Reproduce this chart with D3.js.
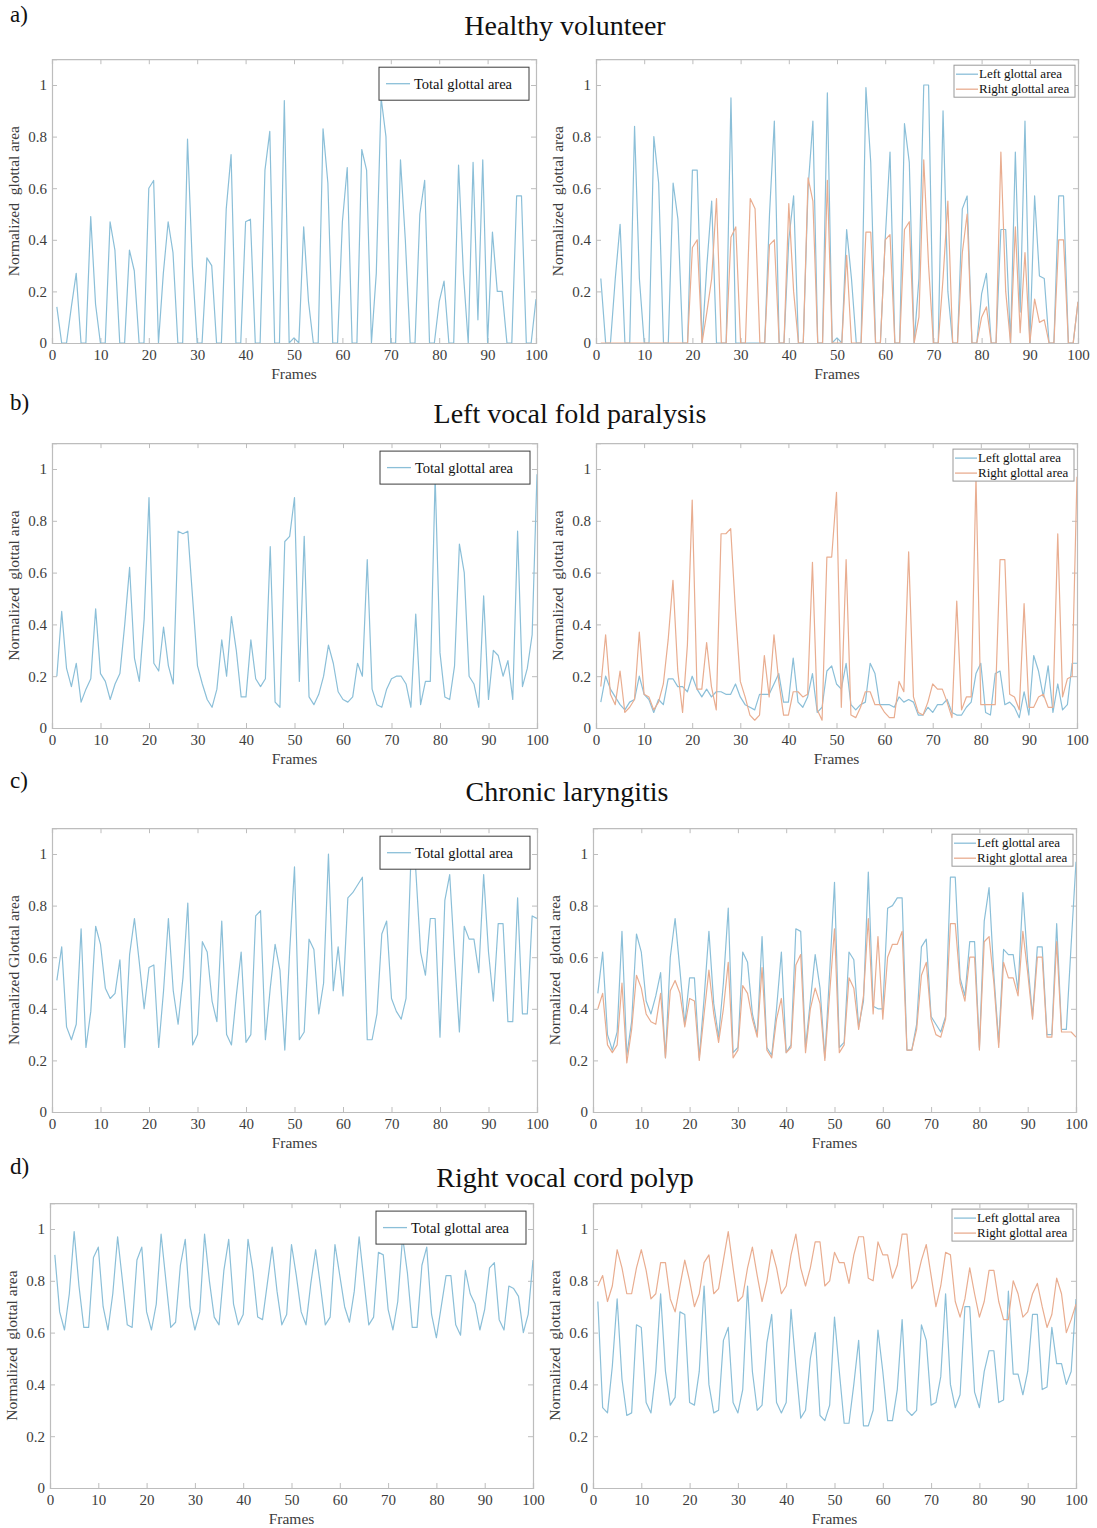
<!DOCTYPE html>
<html>
<head>
<meta charset="utf-8">
<script src="https://cdn.jsdelivr.net/npm/d3@7"></script>
<style>
  body { margin: 0; background: #fff; }
  svg { display: block; font-family: "Liberation Serif", "Times New Roman", serif; }
</style>
</head>
<body>
<div id="chart"></div>
<script>
const width = 1097;
const height = 1528;

// frame numbers
const frames = d3.range(1, 101);
const xTicks = d3.range(0, 101, 10);
const yTicks = [0, 0.2, 0.4, 0.6, 0.8, 1];

const rowTitles = ["Healthy volunteer", "Left vocal fold paralysis", "Chronic laryngitis", "Right vocal cord polyp"];
const rowLetters = ["a)", "b)", "c)", "d)"];
const totalLabel = "Total glottal area";
const leftLabel = "Left glottal area";
const rightLabel = "Right glottal area";

const healthyTotal = [0.14,0,0,0.14,0.27,0,0,0.49,0.15,0,
  0,0.47,0.36,0,0,0.36,0.28,0,0,0.60,
  0.63,0,0.27,0.47,0.35,0,0,0.79,0.30,0,
  0,0.33,0.30,0,0,0.52,0.73,0,0,0.47,
  0.48,0,0,0.67,0.82,0,0,0.94,0,0.02,
  0,0.45,0.16,0,0,0.83,0.62,0,0,0.47,
  0.68,0,0,0.75,0.67,0,0.27,0.95,0.80,0,
  0,0.71,0.40,0,0,0.50,0.63,0,0,0.16,
  0.24,0,0,0.69,0.27,0,0.70,0.09,0.71,0,
  0.43,0.20,0.20,0,0,0.57,0.57,0,0,0.17];

const healthyLeft = [0.25,0,0,0.25,0.46,0,0,0.84,0.25,0,
  0,0.80,0.62,0,0,0.62,0.48,0,0,0.67,
  0.67,0,0.30,0.55,0,0,0,0.95,0,0,
  0,0,0,0,0,0.50,0.86,0,0,0.40,
  0.57,0,0,0.60,0.86,0,0,0.97,0,0.02,
  0,0.44,0.25,0,0,0.99,0.70,0,0,0.40,
  0.74,0,0,0.85,0.70,0,0.25,1.0,1.0,0,
  0,0.90,0.20,0,0,0.52,0.57,0,0,0.19,
  0.27,0,0,0.44,0.44,0,0.74,0.12,0.86,0,
  0.57,0.26,0.25,0,0,0.57,0.57,0,0,0.16];

const healthyRight = [0,0,0,0,0,0,0,0,0,0,
  0,0,0,0,0,0,0,0,0,0.37,
  0.40,0,0.12,0.25,0.56,0,0,0.41,0.45,0,
  0,0.56,0.52,0,0,0.38,0.40,0,0,0.54,
  0.20,0,0,0.64,0.55,0,0,0.63,0,0,
  0,0.34,0,0,0,0.43,0.43,0,0,0.40,
  0.42,0,0,0.44,0.47,0,0.10,0.71,0.30,0,
  0,0.25,0.55,0,0,0.35,0.50,0,0,0.10,
  0.14,0,0,0.74,0.20,0,0.45,0.04,0.35,0,
  0.17,0.08,0.09,0,0,0.40,0.40,0,0,0.16];

const paralysisTotal = [0.20,0.45,0.23,0.16,0.25,0.10,0.15,0.19,0.46,0.21,
  0.18,0.11,0.17,0.21,0.40,0.62,0.27,0.18,0.42,0.89,
  0.25,0.22,0.39,0.24,0.17,0.76,0.75,0.76,0.50,0.24,
  0.17,0.11,0.08,0.15,0.34,0.20,0.43,0.30,0.12,0.12,
  0.34,0.19,0.16,0.19,0.70,0.10,0.08,0.72,0.74,0.89,
  0.18,0.74,0.12,0.09,0.13,0.20,0.32,0.25,0.14,0.11,
  0.10,0.12,0.25,0.20,0.65,0.15,0.09,0.08,0.15,0.19,
  0.20,0.20,0.17,0.08,0.44,0.09,0.18,0.18,0.97,0.29,
  0.12,0.11,0.24,0.71,0.60,0.20,0.17,0.08,0.51,0.11,
  0.30,0.28,0.20,0.26,0.11,0.76,0.16,0.23,0.36,0.98];

const paralysisLeft = [0.10,0.20,0.15,0.12,0.09,0.07,0.10,0.11,0.20,0.13,
  0.11,0.06,0.11,0.09,0.19,0.19,0.16,0.16,0.14,0.20,
  0.15,0.12,0.15,0.12,0.14,0.14,0.13,0.13,0.17,0.12,
  0.09,0.08,0.07,0.13,0.13,0.13,0.17,0.21,0.10,0.10,
  0.27,0.10,0.08,0.12,0.21,0.06,0.08,0.22,0.24,0.17,
  0.15,0.25,0.09,0.07,0.09,0.10,0.25,0.21,0.09,0.09,
  0.09,0.08,0.12,0.10,0.11,0.10,0.05,0.05,0.08,0.06,
  0.09,0.09,0.11,0.06,0.05,0.05,0.08,0.10,0.21,0.25,
  0.06,0.05,0.21,0.22,0.09,0.10,0.08,0.04,0.14,0.05,
  0.28,0.22,0.12,0.24,0.06,0.17,0.07,0.09,0.25,0.25];

const paralysisRight = [0.16,0.36,0.13,0.09,0.22,0.06,0.08,0.11,0.37,0.13,
  0.12,0.07,0.10,0.17,0.34,0.57,0.22,0.06,0.32,0.88,
  0.15,0.15,0.33,0.16,0.07,0.75,0.75,0.77,0.45,0.18,
  0.12,0.05,0.03,0.05,0.28,0.12,0.36,0.18,0.05,0.05,
  0.14,0.14,0.12,0.13,0.64,0.07,0.03,0.66,0.66,0.91,
  0.08,0.65,0.05,0.04,0.08,0.14,0.14,0.09,0.09,0.06,
  0.04,0.04,0.18,0.14,0.68,0.12,0.06,0.05,0.10,0.17,
  0.15,0.15,0.10,0.04,0.49,0.07,0.12,0.12,0.97,0.09,
  0.09,0.09,0.09,0.65,0.65,0.13,0.12,0.07,0.48,0.08,
  0.08,0.12,0.13,0.08,0.08,0.75,0.12,0.19,0.20,0.97];

const laryngitisTotal = [0.51,0.64,0.33,0.28,0.34,0.71,0.25,0.39,0.72,0.65,
  0.48,0.44,0.46,0.59,0.25,0.61,0.75,0.58,0.40,0.56,
  0.57,0.25,0.47,0.75,0.47,0.34,0.52,0.81,0.26,0.30,
  0.66,0.62,0.43,0.35,0.74,0.30,0.26,0.45,0.62,0.27,
  0.30,0.76,0.78,0.28,0.48,0.65,0.55,0.24,0.62,0.95,
  0.28,0.31,0.67,0.63,0.38,0.50,1.00,0.47,0.64,0.45,
  0.83,0.85,0.88,0.91,0.28,0.28,0.38,0.69,0.74,0.44,
  0.39,0.36,0.44,0.98,0.94,0.62,0.53,0.75,0.75,0.29,
  0.82,0.92,0.60,0.31,0.72,0.67,0.67,0.54,0.92,0.62,
  0.43,0.73,0.73,0.35,0.35,0.83,0.38,0.38,0.76,0.75];

const laryngitisLeft = [0.46,0.62,0.30,0.24,0.31,0.70,0.22,0.35,0.69,0.62,
  0.43,0.38,0.45,0.54,0.21,0.60,0.75,0.55,0.34,0.52,
  0.52,0.21,0.44,0.70,0.42,0.29,0.50,0.79,0.23,0.25,
  0.62,0.58,0.38,0.30,0.68,0.25,0.22,0.40,0.62,0.23,
  0.26,0.71,0.70,0.25,0.43,0.61,0.48,0.21,0.54,0.89,
  0.25,0.27,0.62,0.59,0.33,0.43,0.93,0.41,0.40,0.40,
  0.79,0.80,0.83,0.83,0.24,0.24,0.34,0.64,0.67,0.37,
  0.34,0.31,0.37,0.91,0.91,0.52,0.45,0.66,0.66,0.25,
  0.74,0.87,0.53,0.27,0.63,0.61,0.61,0.47,0.85,0.58,
  0.37,0.64,0.64,0.30,0.30,0.73,0.32,0.32,0.65,0.97];

const laryngitisRight = [0.40,0.46,0.26,0.23,0.26,0.50,0.19,0.32,0.53,0.48,
  0.38,0.35,0.34,0.46,0.21,0.47,0.51,0.46,0.33,0.44,
  0.43,0.20,0.38,0.55,0.38,0.27,0.40,0.58,0.21,0.24,
  0.49,0.46,0.36,0.29,0.56,0.24,0.21,0.36,0.44,0.23,
  0.25,0.57,0.61,0.23,0.40,0.48,0.42,0.20,0.46,0.71,
  0.23,0.26,0.52,0.48,0.32,0.45,0.75,0.38,0.68,0.36,
  0.60,0.65,0.65,0.70,0.24,0.24,0.32,0.53,0.58,0.36,
  0.30,0.29,0.36,0.73,0.73,0.50,0.43,0.60,0.60,0.24,
  0.66,0.68,0.50,0.25,0.58,0.52,0.52,0.45,0.70,0.54,
  0.36,0.60,0.60,0.29,0.29,0.66,0.31,0.31,0.31,0.29];

const polypTotal = [0.90,0.68,0.61,0.75,0.99,0.78,0.62,0.62,0.89,0.93,
  0.70,0.61,0.75,0.97,0.80,0.63,0.62,0.88,0.93,0.68,
  0.61,0.71,0.98,0.80,0.62,0.64,0.86,0.96,0.70,0.61,
  0.68,0.98,0.80,0.66,0.63,0.84,0.96,0.71,0.63,0.67,
  0.96,0.84,0.66,0.65,0.79,0.93,0.76,0.63,0.67,0.94,
  0.82,0.68,0.63,0.79,0.92,0.78,0.63,0.66,0.94,0.82,
  0.70,0.64,0.76,0.97,0.80,0.63,0.66,0.91,0.90,0.69,
  0.61,0.72,0.97,0.83,0.62,0.62,0.86,0.93,0.67,0.58,
  0.70,0.82,0.82,0.63,0.59,0.84,0.75,0.71,0.61,0.69,
  0.85,0.87,0.65,0.61,0.78,0.77,0.74,0.60,0.67,0.88];

const polypLeft = [0.72,0.31,0.29,0.47,0.73,0.42,0.28,0.29,0.63,0.62,
  0.33,0.29,0.45,0.75,0.45,0.32,0.35,0.68,0.67,0.33,
  0.32,0.45,0.78,0.40,0.29,0.30,0.57,0.62,0.33,0.29,
  0.38,0.78,0.45,0.30,0.32,0.56,0.67,0.33,0.29,0.33,
  0.69,0.47,0.27,0.30,0.50,0.60,0.28,0.26,0.32,0.66,
  0.45,0.25,0.25,0.40,0.57,0.24,0.24,0.30,0.61,0.45,
  0.26,0.26,0.38,0.65,0.30,0.28,0.30,0.63,0.57,0.32,
  0.33,0.43,0.75,0.40,0.31,0.36,0.70,0.70,0.37,0.31,
  0.45,0.53,0.53,0.33,0.34,0.76,0.44,0.44,0.36,0.45,
  0.67,0.67,0.38,0.39,0.62,0.48,0.48,0.40,0.45,0.73];

const polypRight = [0.78,0.82,0.72,0.78,0.92,0.85,0.75,0.75,0.85,0.92,
  0.84,0.73,0.75,0.87,0.87,0.73,0.68,0.78,0.88,0.80,
  0.70,0.75,0.87,0.90,0.75,0.77,0.88,0.99,0.85,0.72,
  0.74,0.85,0.93,0.82,0.72,0.80,0.92,0.85,0.75,0.78,
  0.90,0.98,0.85,0.78,0.85,0.95,0.95,0.78,0.80,0.91,
  0.87,0.87,0.79,0.90,0.97,0.97,0.81,0.80,0.95,0.90,
  0.90,0.81,0.86,0.98,0.98,0.77,0.80,0.88,0.94,0.82,
  0.70,0.78,0.91,0.90,0.72,0.66,0.73,0.85,0.75,0.66,
  0.72,0.84,0.84,0.72,0.65,0.65,0.80,0.75,0.66,0.68,
  0.75,0.79,0.70,0.62,0.67,0.81,0.75,0.60,0.65,0.71];

const colors = { blue: "#8bbfd8", orange: "#e9ad90" };

// pixel layout of each row: y of value 0, px per unit, x-range of both panels
const rows = [
  { zero: 343,  unit: 258, left: [52, 536], right: [596, 1078], total: healthyTotal,    lr: [healthyLeft, healthyRight],       yTitle: ["Normalized  glottal area", "Normalized  glottal area"] },
  { zero: 728,  unit: 259, left: [52, 537], right: [596, 1077], total: paralysisTotal,  lr: [paralysisLeft, paralysisRight],   yTitle: ["Normalized  glottal area", "Normalized  glottal area"] },
  { zero: 1112, unit: 258, left: [52, 537], right: [593, 1076], total: laryngitisTotal, lr: [laryngitisLeft, laryngitisRight], yTitle: ["Normalized Glottal area", "Normalized  glottal area"] },
  { zero: 1488, unit: 259, left: [50, 533], right: [593, 1076], total: polypTotal,      lr: [polypLeft, polypRight],           yTitle: ["Normalized  glottal area", "Normalized  glottal area"] }
];

const svg = d3.select("#chart").append("svg")
  .attr("width", width)
  .attr("height", height);

const titleY = [26, 414, 792, 1178];
const titleX = [565, 570, 567, 565];

function drawPanel(row, xr, series, labels, yTitle, legendWide) {
  const xScale = d3.scaleLinear().domain([0, 100]).range(xr);
  const yScale = d3.scaleLinear().domain([0, 1.1]).range([row.zero, row.zero - 1.1 * row.unit]);
  const top = yScale(1.1);

  const g = svg.append("g");

  const fmt = d => d === 0 ? "0" : d === 1 ? "1" : d.toFixed(1);

  const axB = g.append("g").attr("transform", `translate(0,${row.zero})`)
    .call(d3.axisBottom(xScale).tickValues(xTicks).tickSize(-5).tickPadding(6));
  const axT = g.append("g").attr("transform", `translate(0,${top})`)
    .call(d3.axisTop(xScale).tickValues(xTicks).tickSize(-5).tickFormat(""));
  const axL = g.append("g").attr("transform", `translate(${xr[0]},0)`)
    .call(d3.axisLeft(yScale).tickValues(yTicks).tickSize(-5).tickPadding(5).tickFormat(fmt));
  const axR = g.append("g").attr("transform", `translate(${xr[1]},0)`)
    .call(d3.axisRight(yScale).tickValues(yTicks).tickSize(-5).tickFormat(""));

  [axB, axT, axL, axR].forEach(a => {
    a.selectAll(".domain").attr("stroke", "#bdbdbd").attr("stroke-width", 1.2);
    a.selectAll(".tick line").attr("stroke", "#bdbdbd");
    a.selectAll(".tick text")
      .attr("fill", "#3c3c3c")
      .style("font-size", "15px")
      .style("font-family", "Liberation Serif, serif");
  });

  g.append("text")
    .attr("x", (xr[0] + xr[1]) / 2)
    .attr("y", row.zero + 36)
    .attr("text-anchor", "middle")
    .attr("fill", "#3c3c3c")
    .style("font-size", "15.5px")
    .text("Frames");

  g.append("text")
    .attr("transform", `translate(${xr[0] - 33},${yScale(0.55)}) rotate(-90)`)
    .attr("text-anchor", "middle")
    .attr("fill", "#3c3c3c")
    .style("font-size", "15.5px")
    .style("white-space", "pre")
    .attr("xml:space", "preserve")
    .text(yTitle);

  const line = d3.line()
    .x((d, i) => xScale(frames[i]))
    .y(d => yScale(d));

  const clipId = "clip" + Math.round(xr[0]) + "_" + row.zero;
  g.append("clipPath").attr("id", clipId)
    .append("rect")
      .attr("x", xr[0]).attr("y", top)
      .attr("width", xr[1] - xr[0]).attr("height", row.zero - top);

  g.append("g").attr("clip-path", `url(#${clipId})`)
    .selectAll("path")
    .data(series)
    .join("path")
      .attr("fill", "none")
      .attr("stroke", (d, i) => i === 0 ? colors.blue : colors.orange)
      .attr("stroke-width", 1.2)
      .attr("stroke-linejoin", "round")
      .attr("d", d => line(d));

  // legend
  const lg = g.append("g");
  if (!legendWide) {
    const w = 150, h = 33;
    const lx = xr[1] - 7 - w, ly = top + 8;
    lg.append("rect").attr("x", lx).attr("y", ly).attr("width", w).attr("height", h)
      .attr("fill", "#fff").attr("stroke", "#3c3c3c").attr("stroke-width", 1);
    lg.append("line").attr("x1", lx + 7).attr("x2", lx + 31)
      .attr("y1", ly + h / 2).attr("y2", ly + h / 2)
      .attr("stroke", colors.blue).attr("stroke-width", 1.3);
    lg.append("text").attr("x", lx + 35).attr("y", ly + h / 2 + 5)
      .attr("fill", "#111").style("font-size", "14.5px").text(labels[0]);
  } else {
    const w = 121, h = 32;
    const lx = xr[1] - 3 - w, ly = top + 6;
    lg.append("rect").attr("x", lx).attr("y", ly).attr("width", w).attr("height", h)
      .attr("fill", "#fff").attr("stroke", "#9a9a9a").attr("stroke-width", 1);
    labels.forEach((lab, i) => {
      const yy = ly + 9 + i * 15;
      lg.append("line").attr("x1", lx + 2).attr("x2", lx + 24)
        .attr("y1", yy).attr("y2", yy)
        .attr("stroke", i === 0 ? colors.blue : colors.orange).attr("stroke-width", 1.3);
      lg.append("text").attr("x", lx + 25).attr("y", yy + 4)
        .attr("fill", "#111").style("font-size", "13px").text(lab);
    });
  }
}

rows.forEach((row, r) => {
  svg.append("text")
    .attr("x", 10).attr("y", titleY[r] - 4)
    .attr("fill", "#111")
    .style("font-size", "23px")
    .text(rowLetters[r]);

  svg.append("text")
    .attr("x", titleX[r]).attr("y", titleY[r] + 9)
    .attr("text-anchor", "middle")
    .attr("fill", "#111")
    .style("font-size", "28px")
    .text(rowTitles[r]);

  drawPanel(row, row.left, [row.total], [totalLabel], row.yTitle[0], false);
  drawPanel(row, row.right, row.lr, [leftLabel, rightLabel], row.yTitle[1], true);
});
</script>
</body>
</html>
